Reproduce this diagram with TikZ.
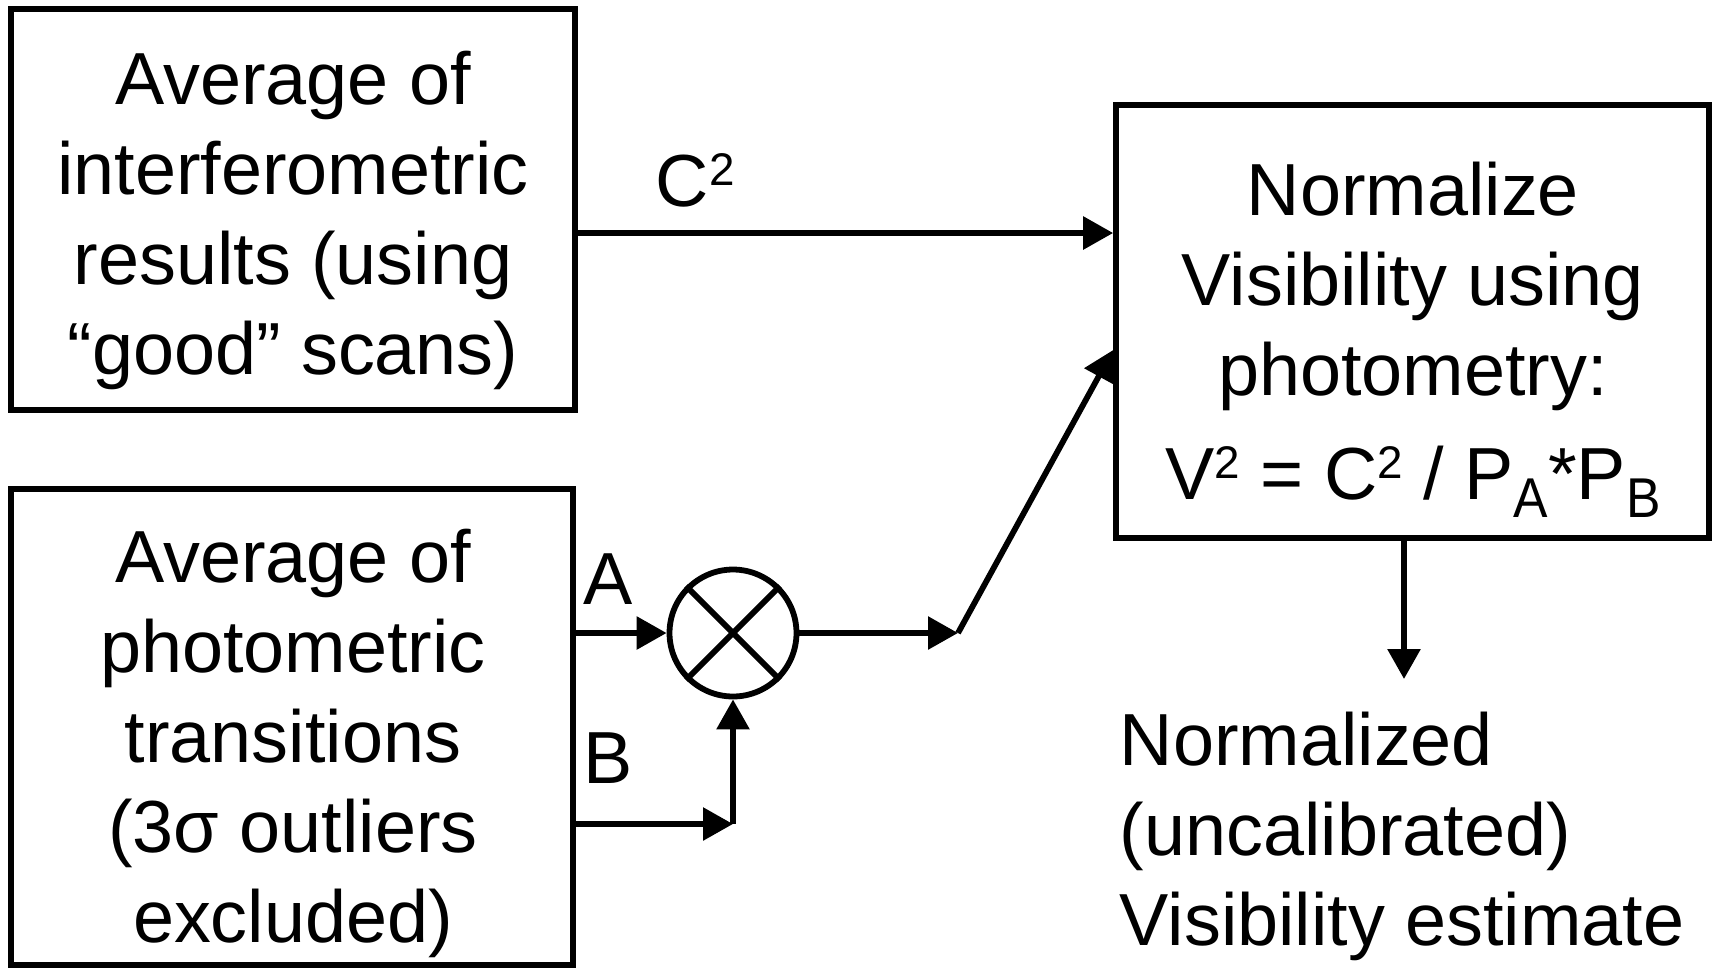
\documentclass[tikz,border=0pt]{standalone}
\usepackage{fontspec}
\setmainfont{Liberation Sans}
\usepackage{graphicx}
\usetikzlibrary{calc,arrows.meta}
\newcommand{\twosup}{\raisebox{0.28em}{\scalebox{0.62}{2}}}
\newcommand{\lowsub}[1]{\raisebox{-0.25em}{\scalebox{0.7}[0.76]{#1}}}

\begin{document}
\begin{tikzpicture}[x=0.02cm,y=-0.02cm,line width=0.116cm,>={Triangle[length=0.6cm,width=0.64cm]},
		box/.style={draw,inner sep=0pt},
		txt/.style={align=center,inner sep=0pt,font=\fontsize{42}{51.2}\selectfont}]
			\useasboundingbox (0,0) rectangle (1716,968);
			\node[box,minimum width=11.28cm,minimum height=8.02cm] (avgint) at (293,209.5) {};
			\node[box,minimum width=11.24cm,minimum height=9.52cm] (avgphot) at (292,727) {};
			\node[box,minimum width=11.86cm,minimum height=8.66cm] (norm) at (1412.5,321.5) {};
			\node[draw,circle,minimum size=2.54cm,inner sep=0pt] (mult) at (733,633) {};
			\draw (mult.45) -- (mult.225) (mult.135) -- (mult.315);
			\node[txt,anchor=north] (avginttext) at (293,48) {Average of\\interferometric\\results (using\\“good” scans)};
			\node[txt,anchor=north] (avgphottext) at (293,526) {Average of\\photometric\\transitions\\(3σ outliers\\excluded)};
			\node[txt,anchor=north] (normtext) at (1413,159) {Normalize\\Visibility using\\photometry:\\[0.28cm]V\twosup{} = C\twosup{} / P\lowsub{A}*P\lowsub{B}};
			\node[txt,anchor=north west,align=left] (result) at (1117,709) {Normalized\\(uncalibrated)\\Visibility estimate};
			% C^2 into the normalization
			\coordinate (cin) at ($(avgint.east)+(0,23.5)$);
			\draw[->] (cin) -- (cin -| norm.west);
			\node[txt,anchor=base west] (lblc) at (653,206) {C\twosup};
			% photometric channels
			\draw[->] (mult.west -| avgphot.east) -- (mult.west);
			\node[txt,anchor=base west] (lbla) at (581,604) {A};
			\coordinate (bjoin) at (733,824);
			\draw[->] (bjoin -| avgphot.east) -- (bjoin);
			\draw[->] (bjoin) -- (mult.south);
			\node[txt,anchor=base west] (lblb) at (581,783) {B};
			\coordinate (bend) at (958,633);
			\draw[->] (mult.east) -- (bend);
			\draw[->] (bend) -- ($(norm.west)+(0,28.5)$);
			\coordinate (vtip) at (1404,679);
			\draw[->] (vtip |- norm.south) -- (vtip);
		\end{tikzpicture}
\end{document}
